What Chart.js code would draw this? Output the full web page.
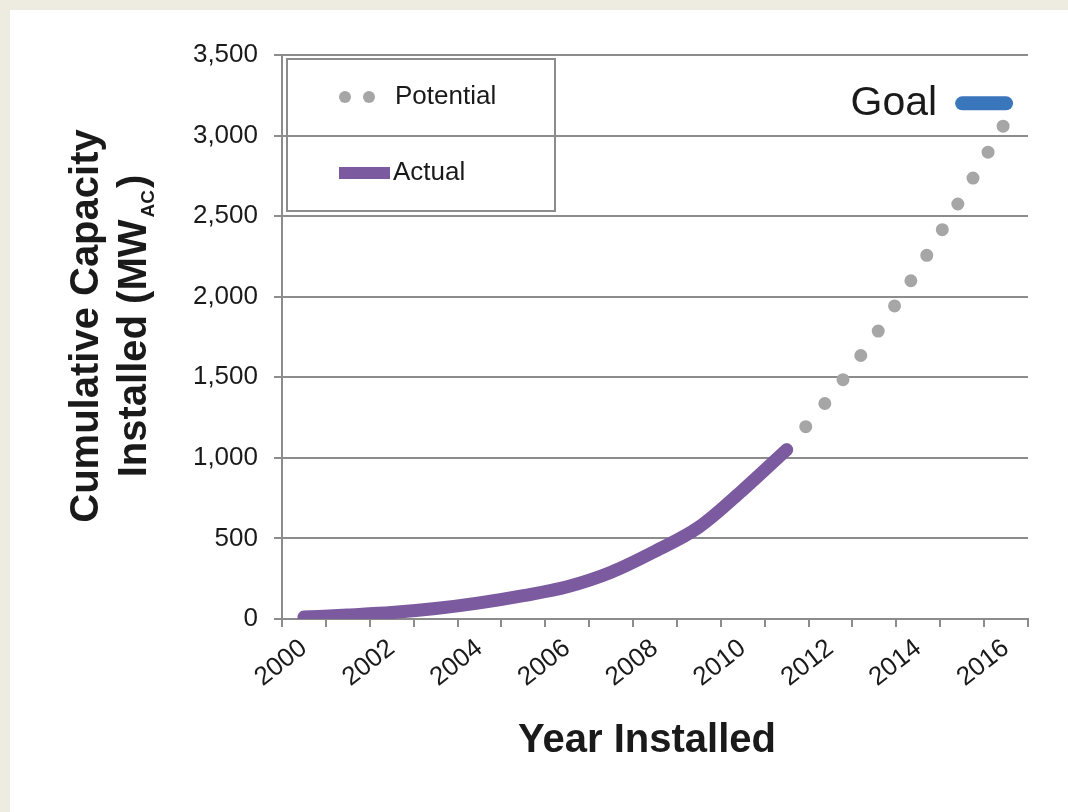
<!DOCTYPE html>
<html>
<head>
<meta charset="utf-8">
<script src="https://cdn.jsdelivr.net/npm/chart.js@4.4.1/dist/chart.umd.min.js"></script>
<style>
    body { margin: 0; background: #eeebe0; }
    #painel { position: absolute; left: 10px; top: 10px; width: 1058px; height: 802px; background: #fff; }
</style>
</head>
<body>
<div id="painel"><canvas id="capacityChart" width="1058" height="802"></canvas></div>
<script>
// dados
const years = ['2000', '2001', '2002', '2003', '2004', '2005', '2006', '2007', '2008',
               '2009', '2010', '2011', '2012', '2013', '2014', '2015', '2016'];
const actual = [12, 25, 40, 65, 100, 145, 200, 290, 420, 570, 800, 1050,
                null, null, null, null, null];
const potential = [null, null, null, null, null, null, null, null, null, null, null,
                   1050, 1380, 1750, 2170, 2620, 3090];
const goal = [null, null, null, null, null, null, null, null, null, null, null,
              null, null, null, null, 3200, 3200];
const yTicks = [0, 500, 1000, 1500, 2000, 2500, 3000, 3500];

const GRAY = '#8c8c8c';
const TEXT = '#1a1a1a';
const FONT = '"Liberation Sans", Arial, sans-serif';

// legenda, títulos e o texto "Goal" desenhados à mão
const extras = {
    id: 'extras',
    afterDraw(chart) {
        const c = chart.ctx;
        const area = chart.chartArea;
        const xs = chart.scales.x;
        const ys = chart.scales.y;
        c.save();

        // caixa da legenda
        const lx = area.left, ly = area.top;
        c.strokeStyle = GRAY;
        c.lineWidth = 2;
        c.strokeRect(lx + 5, ly + 4, 268, 152);

        c.fillStyle = '#a6a6a6';
        [63, 87].forEach(dx => {
            c.beginPath();
            c.arc(lx + dx, ly + 42, 6, 0, Math.PI * 2);
            c.fill();
        });
        c.strokeStyle = '#7b5aa0';
        c.lineWidth = 12;
        c.beginPath();
        c.moveTo(lx + 57, ly + 118);
        c.lineTo(lx + 108, ly + 118);
        c.stroke();

        c.fillStyle = TEXT;
        c.font = '26px ' + FONT;
        c.textBaseline = 'middle';
        c.textAlign = 'left';
        c.fillText('Potential', lx + 113, ly + 42);
        c.fillText('Actual', lx + 111, ly + 118);

        // texto Goal ao lado da barra azul
        const gi = goal.findIndex(v => v !== null);
        c.font = '41px ' + FONT;
        c.textAlign = 'right';
        c.fillText('Goal', xs.getPixelForValue(gi) - 25, ys.getPixelForValue(goal[gi]));

        // título do eixo x
        c.font = 'bold 40px ' + FONT;
        c.textAlign = 'center';
        c.textBaseline = 'alphabetic';
        c.fillText('Year Installed', 637, 742);

        // título do eixo y (duas linhas, com subscrito AC)
        c.translate(0, 316);
        c.rotate(-Math.PI / 2);
        c.fillText('Cumulative Capacity', 0, 88);
        const p1 = 'Installed (MW', sub = 'AC', p3 = ')';
        c.font = 'bold 40px ' + FONT;
        const w1 = c.measureText(p1).width, w3 = c.measureText(p3).width;
        c.font = 'bold 19px ' + FONT;
        const w2 = c.measureText(sub).width + 4;
        let x0 = -(w1 + w2 + w3) / 2;
        c.textAlign = 'left';
        c.font = 'bold 40px ' + FONT;
        c.fillText(p1, x0, 136);
        c.font = 'bold 19px ' + FONT;
        c.fillText(sub, x0 + w1 + 2, 144);
        c.font = 'bold 40px ' + FONT;
        c.fillText(p3, x0 + w1 + w2, 136);
        c.restore();
    }
};

const ctx = document.getElementById('capacityChart').getContext('2d');
const chart = new Chart(ctx, {
    type: 'line',
    data: {
        labels: years,
        datasets: [{
            label: 'Actual',
            data: actual,
            borderColor: '#7b5aa0',
            borderWidth: 13,
            borderCapStyle: 'round',
            borderJoinStyle: 'round',
            cubicInterpolationMode: 'monotone',
            pointRadius: 0,
            order: 0
        }, {
            label: 'Potential',
            data: potential,
            borderColor: '#a6a6a6',
            borderWidth: 13,
            borderDash: [0, 30],
            borderCapStyle: 'round',
            pointRadius: 0,
            order: 1
        }, {
            label: 'Goal',
            data: goal,
            borderColor: '#3a76bc',
            borderWidth: 14,
            borderCapStyle: 'round',
            pointRadius: 0,
            order: 2
        }]
    },
    options: {
        responsive: false,
        animation: false,
        layout: {
            padding: { left: 0, top: 45, right: 40, bottom: 33 }
        },
        plugins: {
            legend: { display: false },
            tooltip: { enabled: false }
        },
        scales: {
            x: {
                offset: true,
                afterFit: s => { s.height = 160; },
                grid: {
                    offset: true,
                    drawOnChartArea: false,
                    tickLength: 8,
                    color: GRAY,
                    lineWidth: 2
                },
                border: { color: GRAY, width: 2 },
                ticks: {
                    autoSkip: false,
                    minRotation: 38,
                    maxRotation: 38,
                    padding: 6,
                    color: TEXT,
                    font: { family: FONT, size: 26 },
                    callback: function(value, index) {
                        return index % 2 === 0 ? this.getLabelForValue(value) : '';
                    }
                }
            },
            y: {
                min: 0,
                max: 3500,
                afterFit: s => { s.width = 272; },
                afterBuildTicks: s => { s.ticks = yTicks.map(v => ({ value: v })); },
                grid: {
                    tickLength: 8,
                    color: GRAY,
                    lineWidth: 2
                },
                border: { color: GRAY, width: 2 },
                ticks: {
                    padding: 16,
                    color: TEXT,
                    font: { family: FONT, size: 26 },
                    callback: v => v.toLocaleString('en-US')
                }
            }
        }
    },
    plugins: [extras]
});
</script>
</body>
</html>
